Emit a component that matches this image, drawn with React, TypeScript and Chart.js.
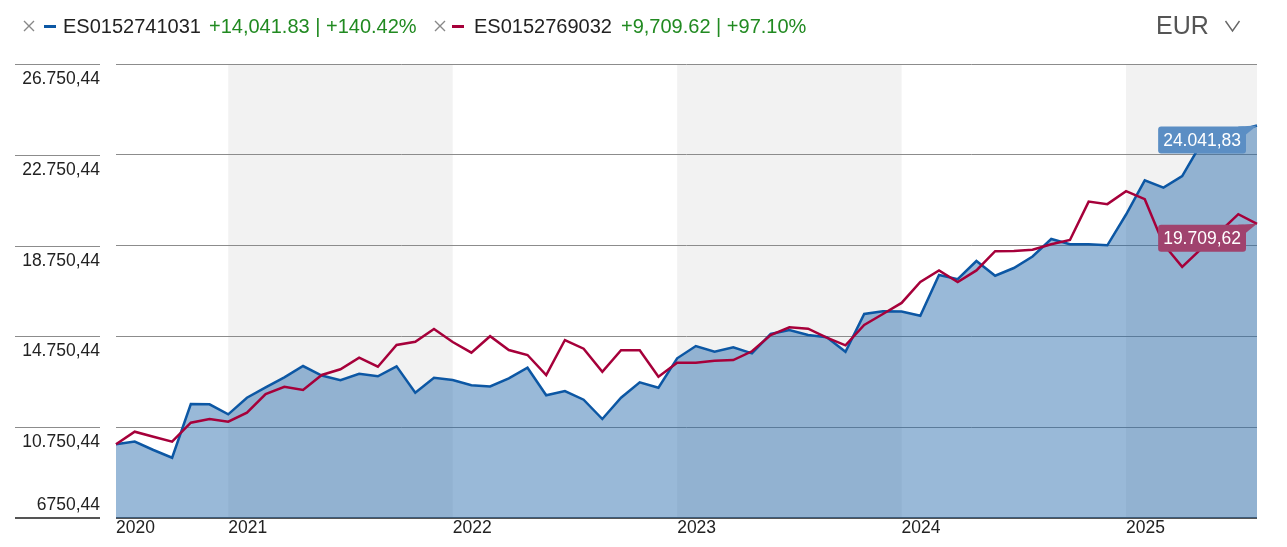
import React, { useEffect, useRef } from 'react'
import { Chart, registerables } from 'chart.js'

Chart.register(...registerables)

const FONT = '"Liberation Sans", Arial, sans-serif'

const months = [
	'2020-07', '2020-08', '2020-09', '2020-10', '2020-11', '2020-12',
	'2021-01', '2021-02', '2021-03', '2021-04', '2021-05', '2021-06',
	'2021-07', '2021-08', '2021-09', '2021-10', '2021-11', '2021-12',
	'2022-01', '2022-02', '2022-03', '2022-04', '2022-05', '2022-06',
	'2022-07', '2022-08', '2022-09', '2022-10', '2022-11', '2022-12',
	'2023-01', '2023-02', '2023-03', '2023-04', '2023-05', '2023-06',
	'2023-07', '2023-08', '2023-09', '2023-10', '2023-11', '2023-12',
	'2024-01', '2024-02', '2024-03', '2024-04', '2024-05', '2024-06',
	'2024-07', '2024-08', '2024-09', '2024-10', '2024-11', '2024-12',
	'2025-01', '2025-02', '2025-03', '2025-04', '2025-05', '2025-06',
	'2025-07', '2025-08',
]

// ES0152741031
const blueValues = [
	10000, 10120, 9746, 9406, 11772, 11760, 11318, 12050, 12508, 12948,
	13446, 13028, 12820, 13107, 12992, 13433, 12270, 12931, 12829, 12596,
	12543, 12904, 13371, 12155, 12345, 11962, 11111, 12050, 12728, 12490,
	13785, 14327, 14076, 14270, 14005, 14856, 15032, 14812, 14710, 14076,
	15737, 15855, 15843, 15657, 17455, 17270, 18072, 17424, 17763, 18270,
	19041, 18812, 18812, 18763, 20120, 21627, 21305, 21812, 23226, 23041,
	23812, 24041.83,
]

// ES0152769032
const redValues = [
	10000, 10552, 10331, 10111, 10948, 11111, 10992, 11389, 12213, 12534,
	12389, 13050, 13301, 13812, 13415, 14371, 14516, 15076, 14503, 14032,
	14759, 14151, 13931, 13050, 14591, 14208, 13195, 14138, 14138, 12975,
	13591, 13591, 13679, 13710, 14094, 14812, 15151, 15089, 14693, 14358,
	15252, 15737, 16226, 17146, 17657, 17146, 17657, 18503, 18517, 18565,
	18812, 18997, 20688, 20578, 21151, 20794, 18812, 17812, 18596, 19349,
	20133, 19709.62,
]

const yTicks = [6750.44, 10750.44, 14750.44, 18750.44, 22750.44, 26750.44]
const yTickLabels = ['6750,44', '10.750,44', '14.750,44', '18.750,44', '22.750,44', '26.750,44']
const shadedYears = [2021, 2023, 2025]

const BLUE = '#0c57a4'
const RED = '#a6003a'

// 24041.83 -> "24.041,83"
const fmt = (v: number) => {
	const [i, d] = v.toFixed(2).split('.')
	return i.replace(/\B(?=(\d{3})+(?!\d))/g, '.') + ',' + d
}

const yearLabel = (i: number) => {
	const m = months[i]
	return i === 0 || m.endsWith('-01') ? m.slice(0, 4) : ''
}

const decor = {
	id: 'decor',
	beforeDraw(chart: any) {
		const { ctx, chartArea: a, scales } = chart
		const x = scales.x
		ctx.save()
		ctx.fillStyle = '#f2f2f2'
		shadedYears.forEach((yr) => {
			const i0 = months.indexOf(`${yr}-01`)
			const i1 = months.indexOf(`${yr + 1}-01`)
			const x0 = x.getPixelForValue(i0)
			const x1 = i1 < 0 ? a.right : x.getPixelForValue(i1)
			ctx.fillRect(x0, a.top, x1 - x0, a.bottom - a.top)
		})
		ctx.restore()
	},
	afterDraw(chart: any) {
		const { ctx, chartArea: a, scales } = chart
		const y = scales.y
		ctx.save()
		// y labels + short grid segments left of the plot
		ctx.font = `17.5px ${FONT}`
		ctx.textAlign = 'right'
		ctx.textBaseline = 'middle'
		y.ticks.forEach((t: any, i: number) => {
			const py = Math.round(y.getPixelForValue(t.value)) + (i === 0 ? 0 : 0.5)
			ctx.strokeStyle = i === 0 ? '#555' : '#8c8c8c'
			ctx.lineWidth = i === 0 ? 2 : 1
			ctx.beginPath()
			ctx.moveTo(15, py)
			ctx.lineTo(100, py)
			ctx.stroke()
			ctx.fillStyle = '#222'
			ctx.fillText(yTickLabels[i], 100, i === 0 ? py - 13 : py + 15)
		})

		// value boxes at the end of each line
		const ends = [
			{ meta: chart.getDatasetMeta(1), value: blueValues[blueValues.length - 1], color: '#5b8ec4' },
			{ meta: chart.getDatasetMeta(0), value: redValues[redValues.length - 1], color: '#a0436e' },
		]
		ends.forEach(({ meta, value, color }) => {
			const pt = meta.data[meta.data.length - 1]
			const text = fmt(value)
			const w = ctx.measureText(text).width + 10
			const h = 27
			const right = a.right - 11
			const left = right - w
			const top = pt.y + 1
			ctx.fillStyle = color
			ctx.beginPath()
			ctx.roundRect(left, top, w, h, 3)
			ctx.fill()
			ctx.beginPath()
			ctx.moveTo(right - 8, top)
			ctx.lineTo(pt.x, pt.y)
			ctx.lineTo(right, top + 8)
			ctx.fill()
			ctx.fillStyle = '#fff'
			ctx.textAlign = 'center'
			ctx.fillText(text, left + w / 2, top + h / 2 + 1)
		})
		ctx.restore()
	},
}

const Cross = ({ left }: { left: number }) => (
	<svg style={{ position: 'absolute', left, top: 19 }} width={14} height={14}>
		<path d="M2 2 L12 12 M12 2 L2 12" stroke="#888" strokeWidth={1.4} fill="none" />
	</svg>
)

const textStyle = (left: number, color: string): React.CSSProperties => ({
	position: 'absolute',
	left,
	top: 16,
	fontSize: 20,
	lineHeight: '20px',
	color,
	whiteSpace: 'nowrap',
})

export default function App() {
	const canvasRef = useRef<HTMLCanvasElement>(null)

	useEffect(() => {
		document.body.style.margin = '0'
		if (!canvasRef.current) return
		const chart = new Chart(canvasRef.current, {
			type: 'line',
			data: {
				labels: months,
				datasets: [
					{
						label: 'ES0152769032',
						data: redValues,
						borderColor: RED,
						borderWidth: 2.5,
						pointRadius: 0,
						tension: 0,
						fill: false,
					},
					{
						label: 'ES0152741031',
						data: blueValues,
						borderColor: BLUE,
						backgroundColor: 'rgba(33,103,170,0.46)',
						borderWidth: 2.5,
						pointRadius: 0,
						tension: 0,
						fill: 'start',
					},
				],
			},
			options: {
				responsive: false,
				animation: false,
				events: [],
				layout: { autoPadding: false, padding: { top: 64, right: 30, left: 0, bottom: 0 } },
				plugins: {
					legend: { display: false },
					tooltip: { enabled: false },
				},
				scales: {
					x: {
						type: 'category',
						afterFit: (axis: any) => {
							axis.height = 29
							axis.paddingLeft = 0
							axis.paddingRight = 0
						},
						grid: { display: false, drawTicks: false },
						border: { display: false },
						ticks: {
							autoSkip: false,
							maxRotation: 0,
							align: 'start',
							padding: 0,
							color: '#222',
							font: { size: 17.5, family: FONT },
							callback: (_v: any, i: number) => yearLabel(i),
						},
					},
					y: {
						min: yTicks[0],
						max: yTicks[yTicks.length - 1],
						afterBuildTicks: (axis: any) => {
							axis.ticks = yTicks.map((v) => ({ value: v }))
						},
						afterFit: (axis: any) => {
							axis.width = 116
						},
						ticks: { display: false },
						border: { display: false },
						grid: {
							drawTicks: false,
							color: (c: any) => (c.index === 0 ? '#555' : '#8c8c8c'),
							lineWidth: (c: any) => (c.index === 0 ? 2 : 1),
						},
					},
				},
			},
			plugins: [decor],
		})
		return () => chart.destroy()
	}, [])

	return (
		<div style={{ position: 'relative', width: 1287, height: 547, fontFamily: FONT, background: '#fff' }}>
			<canvas ref={canvasRef} width={1287} height={547} style={{ position: 'absolute', left: 0, top: 0 }} />
			<Cross left={22} />
			<div style={{ position: 'absolute', left: 44, top: 25, width: 12, height: 3, background: BLUE }} />
			<span style={textStyle(63, '#222')}>ES0152741031</span>
			<span style={textStyle(209, '#218a21')}>+14,041.83 | +140.42%</span>
			<Cross left={433} />
			<div style={{ position: 'absolute', left: 452, top: 25, width: 12, height: 3, background: RED }} />
			<span style={textStyle(474, '#222')}>ES0152769032</span>
			<span style={textStyle(621, '#218a21')}>+9,709.62 | +97.10%</span>
			<span style={{ position: 'absolute', left: 1156, top: 13, fontSize: 25, lineHeight: '25px', color: '#555' }}>EUR</span>
			<svg style={{ position: 'absolute', left: 1224, top: 19 }} width={17} height={14}>
				<path d="M1.5 2 L8.5 12 L15.5 2" stroke="#666" strokeWidth={1.4} fill="none" />
			</svg>
		</div>
	)
}
